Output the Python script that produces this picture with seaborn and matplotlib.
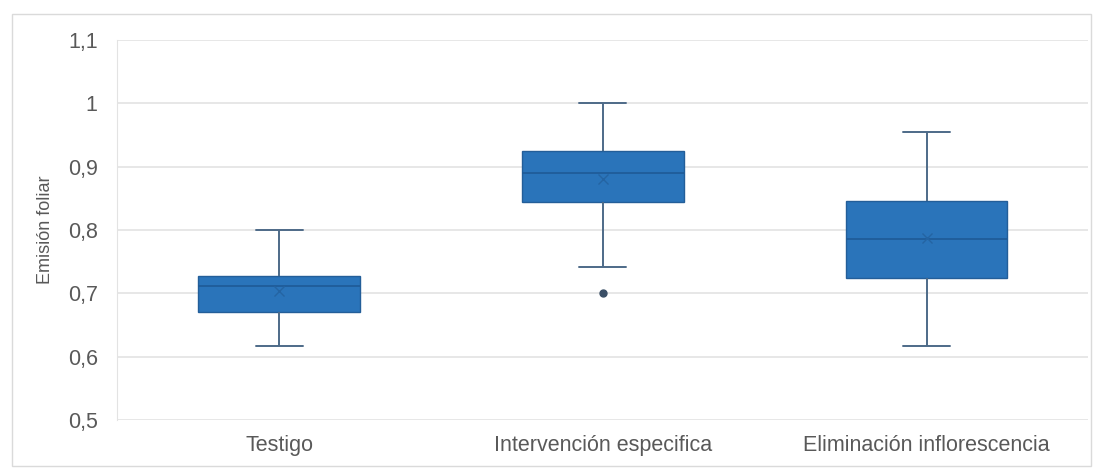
import matplotlib
matplotlib.use('Agg')
import matplotlib.pyplot as plt
import seaborn as sns
import pandas as pd
from matplotlib.patches import Rectangle

# categories and observed values per group
categorias = ['Testigo', 'Intervención especifica', 'Eliminación inflorescencia']
testigo = [0.616, 0.640, 0.655, 0.670, 0.685, 0.700, 0.712, 0.715, 0.720, 0.727, 0.740, 0.760, 0.800]
intervencion = [0.700, 0.742, 0.830, 0.844, 0.870, 0.880, 0.890, 0.900, 0.910, 0.924, 0.960, 0.990, 1.000]
eliminacion = [0.616, 0.660, 0.700, 0.724, 0.750, 0.770, 0.786, 0.800, 0.820, 0.846, 0.880, 0.920, 0.955]
y_ticks = [0.5, 0.6, 0.7, 0.8, 0.9, 1.0, 1.1]
y_tick_labels = ['0,5', '0,6', '0,7', '0,8', '0,9', '1', '1,1']

df = pd.DataFrame({
    'grupo': [categorias[0]] * len(testigo) + [categorias[1]] * len(intervencion) + [categorias[2]] * len(eliminacion),
    'valor': testigo + intervencion + eliminacion,
})

sns.set_style('white')
plt.rcParams['font.family'] = ['Liberation Sans', 'DejaVu Sans']

fig = plt.figure(figsize=(10.95, 4.69), dpi=100)
ax = fig.add_axes([0.107, 0.1045, 0.887, 0.8105])

fill = '#2A74BA'
line = '#4D6A88'

sns.boxplot(data=df, x='grupo', y='valor', order=categorias, ax=ax,
            color=fill, saturation=1, width=0.5, whis=1.5, showmeans=True,
            boxprops=dict(facecolor=fill, edgecolor='#235E99', linewidth=1),
            medianprops=dict(color='#1F5A96', linewidth=1.2),
            whiskerprops=dict(color=line, linewidth=1.4),
            capprops=dict(color=line, linewidth=1.4),
            capwidths=0.145,
            meanprops=dict(marker='x', markeredgecolor='#2464A3', markersize=7, markeredgewidth=1),
            flierprops=dict(marker='o', markerfacecolor='#3A4F66', markeredgecolor='#3A4F66', markersize=5))

ax.set_ylim(0.5, 1.1)
ax.set_xlim(-0.5, 2.5)
ax.set_yticks(y_ticks)
ax.set_yticklabels(y_tick_labels)
ax.yaxis.grid(True, color='#E3E3E3', linewidth=1.2)
ax.set_axisbelow(True)
for s in ['top', 'right', 'bottom']:
    ax.spines[s].set_visible(False)
ax.spines['left'].set_color('#E3E3E3')
ax.tick_params(axis='both', length=0, colors='#595959', labelsize=15.5)
ax.tick_params(axis='y', pad=14)
ax.tick_params(axis='x', pad=11)
ax.set_xlabel('')
ax.set_ylabel('Emisión foliar', color='#595959', fontsize=13, labelpad=10)

# chart area border
fig.patches.append(Rectangle((0.011, 0.006), 0.985, 0.964, transform=fig.transFigure,
                             fill=False, edgecolor='#DADADA', linewidth=1))

fig.savefig('out.png', dpi=100)
